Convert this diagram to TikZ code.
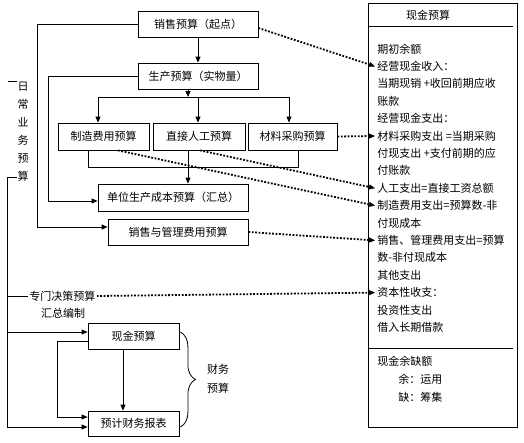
\documentclass[tikz,border=0pt]{standalone}
\usepackage{fontspec}
\setmainfont{Noto Sans CJK SC}
\usetikzlibrary{arrows.meta,calc,decorations.pathreplacing}
\tikzset{box/.style={draw,minimum height=26pt,inner sep=2pt},
  arr/.style={-{Triangle[length=6pt,width=5pt]}},
  dotarr/.style={-{Triangle[length=6pt,width=5pt,line width=0.4pt]},line width=1.8pt,dash pattern=on 1.8pt off 1.6pt},
  txt/.style={anchor=west,inner sep=0pt}}

\begin{document}
\begin{tikzpicture}[x=1pt,y=-1pt,line width=0.8pt,font=\fontsize{11}{13}\selectfont]
\useasboundingbox (0,0) rectangle (524,442);
\node[box,minimum width=120pt] (sales) at (198,24) {销售预算（起点）};
\node[box,minimum width=120pt] (prod) at (198,76) {生产预算（实物量）};
\node[box,minimum width=91pt,minimum height=27pt] (mfg) at (103.5,136.5) {制造费用预算};
\node[box,minimum width=92pt,minimum height=27pt] (labor) at (199,136.5) {直接人工预算};
\node[box,minimum width=89pt,minimum height=27pt] (mat) at (292.5,136.5) {材料采购预算};
\node[box,minimum width=150pt,minimum height=27pt] (unit) at (173,197.5) {单位生产成本预算（汇总）};
\node[box,minimum width=140pt] (selladm) at (178,232) {销售与管理费用预算};
\node[box,minimum width=91pt] (cash) at (133.5,336) {现金预算};
\node[box,minimum width=91pt,minimum height=25pt] (fin) at (133.5,423.5) {预计财务报表};
\node[align=center,inner sep=0pt,font=\fontsize{11}{18}\selectfont] (daily) at (23,132) {日\\常\\业\\务\\预\\算};
\node[anchor=west,inner sep=1pt] (special) at (28,296) {专门决策预算};
\node (sumlabel) at (63,313) {汇总编制};
\node[align=center,font=\fontsize{11}{19}\selectfont] (finlabel) at (218,379) {财务\\预算};
\node[draw,anchor=north west,minimum width=149pt,minimum height=424pt,inner sep=0pt] (cashbox) at (368,3) {};
\node (cashtitle) at (428,15) {现金预算};
\draw (368,26) -- (513,26);
\draw (368,348) -- (513,348);
\foreach \t [count=\i] in {期初余额,经营现金收入：,当期现销 +收回前期应收,账款,经营现金支出：,材料采购支出 =当期采购,付现支出 +支付前期的应,付账款,人工支出=直接工资总额,制造费用支出=预算数-非,付现成本,销售、管理费用支出=预算,数-非付现成本,其他支出,资本性收支：,投资性支出,借入长期借款}
  \node[txt] (l\i) at (377,{49+17.4*(\i-1)}) {\t};
\node[txt] (gap) at (377,361) {现金余缺额};
\node[txt] (surplus) at (398,379) {余：运用};
\node[txt] (shortage) at (398,397) {缺：筹集};
\coordinate (bus) at (188,97);
\coordinate (trunktop) at (7,177);
\path ([xshift=-11pt]labor.south) coordinate (ls);
\path ([xshift=-10.5pt]cash.south) coordinate (cs);
\draw[arr] (sales) -- (prod);
\draw[arr] (prod.south -| bus) -- (bus);
\draw[arr] (bus) -| ([xshift=-5.5pt]mfg.north);
\draw[arr] (bus) -| ([xshift=-1pt]labor.north);
\draw[arr] (bus) -| ([xshift=-3.5pt]mat.north);
\draw ([xshift=-15.5pt]mfg.south) -- ++(0,17) -| ([xshift=5.5pt]mat.south);
\draw[arr] (ls) -- (ls |- unit.north);
\draw[arr] (sales.west) -- ++(-100,0) |- ([yshift=5pt]selladm.west);
\draw[arr] (prod.west) -- ++(-89,0) |- ([yshift=-3.5pt]unit.west);
\draw (8,81) -- (17,81);
\draw (trunktop -| daily.west) -- (trunktop);
\draw[arr] (trunktop) |- ([yshift=-3.5pt]fin.west);
\draw (trunktop |- special.west) -- (special.west);
\draw[arr] (trunktop |- cash.west) ++(0,-4) -- ([yshift=4pt]cash.west);
\draw[arr] ([yshift=-5pt]cash.west) -- ++(-30,0) |- ([yshift=6.5pt]fin.west);
\draw[arr] (cs) -- (cs |- fin.north);
\draw[decorate,decoration={brace,amplitude=15pt}] ([xshift=1pt,yshift=4pt]cash.east) -- ([xshift=1pt,yshift=-3.5pt]fin.east);
\draw[dotarr] ([yshift=-4pt]sales.east) -- ([xshift=-2pt]l2.west);
\draw[dotarr] (mat.east) -- ([xshift=-2pt]l6.west);
\draw[dotarr] ([xshift=1pt]labor.south) -- ([xshift=-2pt]l9.west);
\draw[dotarr] ([xshift=14.5pt]mfg.south) -- ([xshift=-2pt]l10.west);
\draw[dotarr] (selladm.east) -- ([xshift=-2pt]l12.west);
\draw[dotarr] (special.east) -- ([xshift=-2pt]l15.west);
\end{tikzpicture}
\end{document}
